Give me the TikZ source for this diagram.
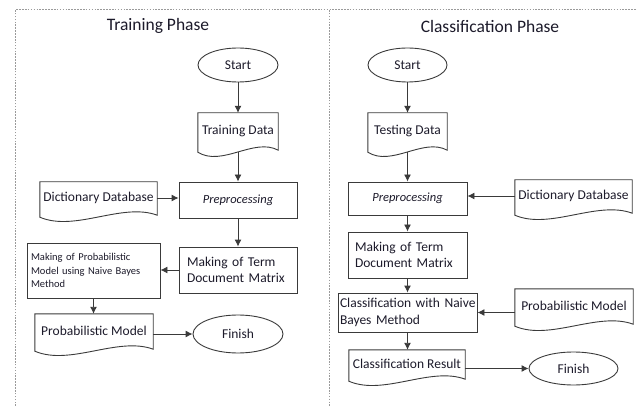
\documentclass[tikz,border=0pt]{standalone}
\usepackage{fontspec}
\setmainfont{Carlito}
\usetikzlibrary{calc,shapes.geometric,arrows.meta}

\definecolor{inkline}{HTML}{3A3A3A}
\definecolor{inktext}{HTML}{1C1A2A}
\definecolor{framegray}{HTML}{9A9A9A}

\newcommand{\bodyfont}{\fontsize{13.5}{16.5}\selectfont}
\newcommand{\smallbody}{\fontsize{10.5}{13.5}\selectfont}

\tikzset{
  flowline/.style={draw=inkline, line width=0.9pt},
  flowarrow/.style={flowline, -{Latex[length=7pt,width=7pt]}},
  frameline/.style={draw=framegray, line width=1pt, dash pattern=on 1.6pt off 1.3pt},
  phasetitle/.style={font=\fontsize{17.5}{20}\selectfont, text=inktext},
  terminal/.style={ellipse, flowline, inner sep=0pt, font=\bodyfont, text=inktext},
  stepbox/.style={rectangle, flowline, inner sep=2pt, font=\bodyfont, text=inktext},
  % document symbol: box with a wavy lower edge drawn after the node
  docshape/.style={rectangle, inner sep=2pt, font=\bodyfont, text=inktext,
    append after command={\pgfextra{\draw[flowline]
      ($(\tikzlastnode.south west)+(0,-3)$) -- (\tikzlastnode.north west)
      -- (\tikzlastnode.north east) -- ($(\tikzlastnode.south east)+(0,-1)$)
      .. controls ($(\tikzlastnode.south east)!0.3!(\tikzlastnode.south west)+(0,12)$)
      and ($(\tikzlastnode.south east)!0.7!(\tikzlastnode.south west)+(0,-18)$)
      .. ($(\tikzlastnode.south west)+(0,-3)$) -- cycle;}}},
}

\begin{document}
\begin{tikzpicture}[x=1pt, y=1pt]
  \useasboundingbox (0,0) rectangle (637,-406);

  % dotted frame of the two phases
  \draw[frameline] (15,-406) -- (15,-10) -- (637,-10);
  \draw[frameline] (329,-10) -- (329,-406);

  \node[phasetitle] (trtitle) at (158,-26) {Training Phase};
  \node[phasetitle] (cltitle) at (490,-26) {Classification Phase};

  % training phase
  \node[terminal, minimum width=80, minimum height=34] (start1) at (238,-65) {Start};
  \node[docshape, minimum width=80, minimum height=36] (trdata) at (238,-131) {Training Data};
  \node[stepbox, minimum width=118, minimum height=36, font=\fontsize{12.5}{15}\selectfont\itshape] (prep1) at (238,-200) {Preprocessing};
  \node[docshape, minimum width=117, minimum height=32] (dict1) at (98.5,-198) {Dictionary Database};
  \node[stepbox, minimum width=118, minimum height=46, text width=102, inner xsep=8, align=left] (term1) at (238,-270) {Making of Term\\Document Matrix};
  \node[stepbox, minimum width=133, minimum height=55, text width=125, inner xsep=4, align=left, font=\smallbody] (mkprob) at (93.5,-270.5) {Making of Probabilistic\\Model using Naive Bayes\\Method};
  \node[docshape, minimum width=118, minimum height=34] (probm1) at (94,-331) {Probabilistic Model};
  \node[terminal, minimum width=90, minimum height=38] (finish1) at (238,-334) {Finish};

  \draw[flowarrow] (start1) -- (trdata);
  \draw[flowarrow] ([yshift=-3]trdata.south) -- (prep1);
  \draw[flowarrow] (dict1.east) -- (dict1.east -| prep1.west);
  \draw[flowarrow] (prep1) -- (term1);
  \draw[flowarrow] (term1.west) -- (term1.west -| mkprob.east);
  \draw[flowarrow] (mkprob.south) -- (mkprob.south |- probm1.north);
  \draw[flowarrow] (probm1.east |- finish1) -- (finish1.west);

  % classification phase
  \node[terminal, minimum width=79, minimum height=34] (start2) at (407.5,-65) {Start};
  \node[docshape, minimum width=79, minimum height=36] (tsdata) at (407.5,-131) {Testing Data};
  \node[stepbox, minimum width=119, minimum height=33, font=\fontsize{12.5}{15}\selectfont\itshape] (prep2) at (407.5,-198.5) {Preprocessing};
  \node[docshape, minimum width=117, minimum height=32] (dict2) at (573.5,-196) {Dictionary Database};
  \node[stepbox, minimum width=119, minimum height=46, text width=105, inner xsep=7, align=left] (term2) at (407.5,-255) {Making of Term\\Document Matrix};
  \node[stepbox, minimum width=139, minimum height=39, text width=135, inner xsep=2, align=left] (clsnb) at (407.5,-312.5) {\mbox{Classification with Naive}\\Bayes Method};
  \node[docshape, minimum width=118, minimum height=34] (probm2) at (574,-306) {Probabilistic Model};
  \node[docshape, minimum width=116, minimum height=28] (clres) at (407,-364) {Classification Result};
  \node[terminal, minimum width=89, minimum height=33] (finish2) at (573.5,-368.5) {Finish};

  \draw[flowarrow] (start2) -- (tsdata);
  \draw[flowarrow] ([yshift=-3]tsdata.south) -- (prep2);
  \draw[flowarrow] (dict2.west) -- (dict2.west -| prep2.east);
  \draw[flowarrow] (prep2) -- (term2);
  \draw[flowarrow] (term2) -- (clsnb);
  \draw[flowarrow] (probm2.west |- clsnb) -- (clsnb.east);
  \draw[flowarrow] (clsnb.south) -- (clsnb.south |- clres.north);
  \draw[flowarrow] (clres.east |- finish2) -- (finish2.west);
\end{tikzpicture}
\end{document}
